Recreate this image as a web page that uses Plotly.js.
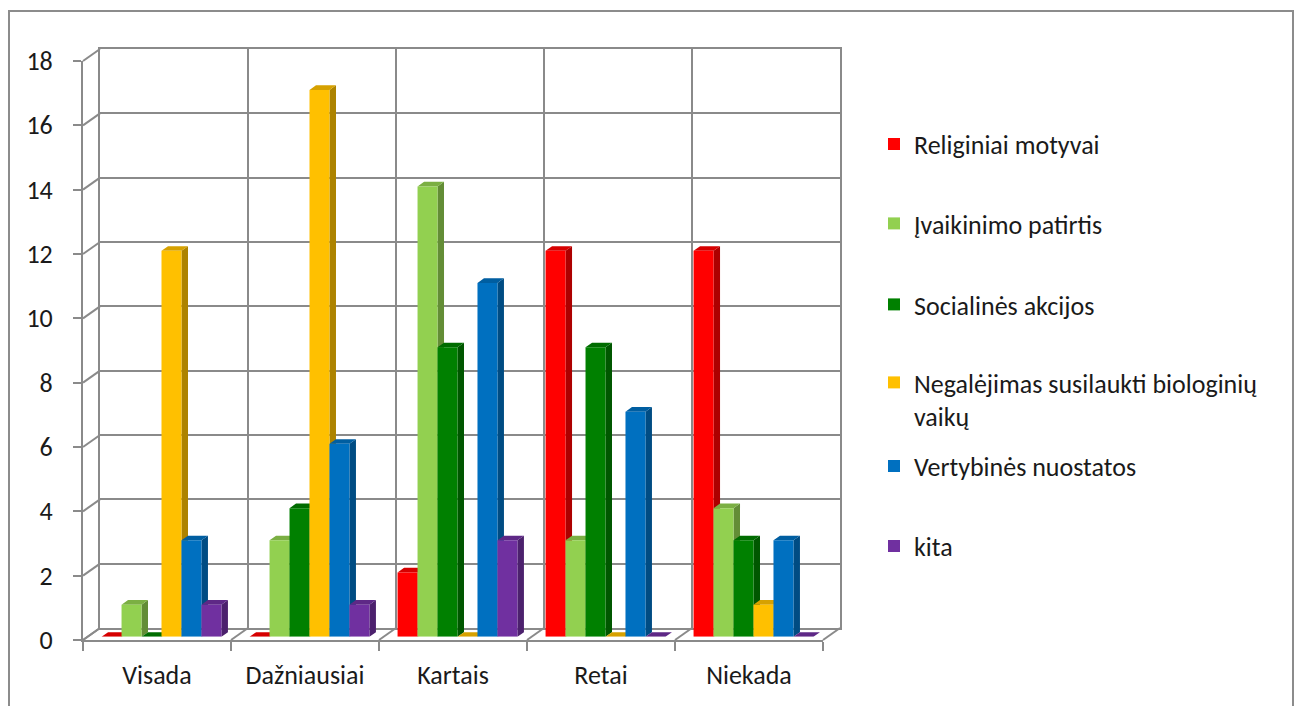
<!DOCTYPE html>
<html><head><meta charset="utf-8">
<script src="https://cdn.plot.ly/plotly-3.0.1.min.js"></script>
<style>html,body{margin:0;padding:0;background:#fff}#chart{width:1299px;height:706px}</style>
</head><body><div id="chart"></div>
<script>
// ---- data ----
const categories = ["Visada", "Dažniausiai", "Kartais", "Retai", "Niekada"];
const seriesNames = ["Religiniai motyvai", "Įvaikinimo patirtis", "Socialinės akcijos",
  "Negalėjimas susilaukti biologinių<br>vaikų", "Vertybinės nuostatos", "kita"];
const religiniai = [0, 0, 2, 12, 12];
const ivaikinimo = [1, 3, 14, 3, 4];
const socialines = [0, 4, 9, 9, 3];
const negalejimas = [12, 17, 0, 0, 1];
const vertybines = [3, 6, 11, 7, 3];
const kita = [1, 1, 3, 0, 0];
const yTickVals = [0, 2, 4, 6, 8, 10, 12, 14, 16, 18];

const seriesValues = [religiniai, ivaikinimo, socialines, negalejimas, vertybines, kita];
const colors = ["#FF0000", "#92D050", "#008000", "#FFC000", "#0070C0", "#7030A0"];

// ---- geometry (pixels) ----
const W = 1299, H = 706;
const FL = 83, FR = 823, FT = 61, FB = 640;      // front plane
const DX = 17, DY = 12;                          // depth offset to back wall
const BX = 4.5, BY = 3.2;                        // bar front face offset
const SDX = 6.5, SDY = 4.6;                      // bar depth
const YMAX = 18;
const px = x => x / W, py = y => 1 - y / H;
const nCat = categories.length, nSer = seriesValues.length;
const bargap = 0.19;
const bw = (1 - bargap) / nSer;
const unitX = (FR - FL) / nCat, unitY = (FB - FT) / YMAX;
const dxu = SDX / unitX, dyu = SDY / unitY;

function shade(hex, f) {
  const n = parseInt(hex.slice(1), 16);
  const r = Math.round(((n >> 16) & 255) * f), g = Math.round(((n >> 8) & 255) * f), b = Math.round((n & 255) * f);
  return `rgb(${r},${g},${b})`;
}

const traces = [];
// anchor trace so the back wall subplot is drawn
traces.push({type: "scatter", mode: "none", x: [0], y: [null], xaxis: "x", yaxis: "y", showlegend: false, hoverinfo: "skip"});

// side faces then top faces (subplot x2y2)
const sides = [], tops = [];
seriesValues.forEach((vals, k) => {
  const sx = [], sy = [], tx = [], ty = [];
  vals.forEach((v, i) => {
    const xl = i - (1 - bargap) / 2 + k * bw, xr = xl + bw;
    sx.push(xr, xr, xr + dxu, xr + dxu, null);
    sy.push(0, v, v + dyu, dyu, null);
    tx.push(xl, xr, xr + dxu, xl + dxu, null);
    ty.push(v, v, v + dyu, v + dyu, null);
  });
  sides.push({type: "scatter", mode: "none", x: sx, y: sy, fill: "toself", fillcolor: shade(colors[k], 0.68),
    xaxis: "x2", yaxis: "y2", showlegend: false, hoverinfo: "skip"});
  tops.push({type: "scatter", mode: "none", x: tx, y: ty, fill: "toself", fillcolor: shade(colors[k], 0.84),
    xaxis: "x2", yaxis: "y2", showlegend: false, hoverinfo: "skip"});
});
traces.push(...sides, ...tops);

// front faces (bars, subplot x3y3)
const legendCenters = [144, 223.5, 304.5, 399.5, 466, 546];
seriesValues.forEach((vals, k) => {
  traces.push({type: "bar", x: categories, y: vals, name: seriesNames[k],
    marker: {color: colors[k], line: {width: 0}}, xaxis: "x3", yaxis: "y3",
    legend: k === 0 ? "legend" : "legend" + (k + 1), hoverinfo: "x+y+name"});
});
// anchor trace for front axes
traces.push({type: "scatter", mode: "none", x: categories, y: categories.map(() => null),
  xaxis: "x4", yaxis: "y4", showlegend: false, hoverinfo: "skip"});

const gridC = "#8a8a8a";
const fontFam = "Carlito, Lato, 'Open Sans', sans-serif";
const FS = 26;
const layout = {
  width: W, height: H, margin: {l: 0, r: 0, t: 0, b: 0},
  paper_bgcolor: "#ffffff", plot_bgcolor: "rgba(0,0,0,0)",
  barmode: "group", bargap: bargap, bargroupgap: 0,
  font: {family: fontFam, size: FS, color: "#1a1a1a"},
  // back wall
  xaxis: {domain: [px(FL + DX), px(FR + DX)], range: [-0.5, nCat - 0.5], tickvals: categories.map((c, i) => i - 0.5).concat([nCat - 0.5]),
    showticklabels: false, ticks: "", showgrid: true, gridcolor: gridC, gridwidth: 2, zeroline: false,
    showline: true, mirror: true, linecolor: gridC, linewidth: 2, anchor: "y", fixedrange: true},
  yaxis: {domain: [py(FB - DY), py(FT - DY)], range: [0, YMAX], tickvals: yTickVals, showticklabels: false, ticks: "",
    showgrid: true, gridcolor: gridC, gridwidth: 2, zeroline: false,
    showline: true, mirror: true, linecolor: gridC, linewidth: 2, anchor: "x", fixedrange: true},
  // faces
  xaxis2: {domain: [px(FL + BX), px(FR + BX)], range: [-0.5, nCat - 0.5], visible: false, anchor: "y2", fixedrange: true},
  yaxis2: {domain: [py(FB - BY), py(FT - BY)], range: [0, YMAX], visible: false, anchor: "x2", fixedrange: true},
  // bars
  xaxis3: {domain: [px(FL + BX), px(FR + BX)], type: "category", categoryarray: categories, range: [-0.5, nCat - 0.5], visible: false, anchor: "y3", fixedrange: true},
  yaxis3: {domain: [py(FB - BY), py(FT - BY)], range: [0, YMAX], visible: false, anchor: "x3", fixedrange: true},
  // front axes with labels
  xaxis4: {domain: [px(FL), px(FR)], type: "category", categoryarray: categories, range: [-0.5, nCat - 0.5],
    tickson: "boundaries", ticks: "outside", ticklen: 9, tickwidth: 2, tickcolor: gridC,
    showline: true, linecolor: gridC, linewidth: 2, showgrid: false, zeroline: false,
    ticklabelstandoff: 11, tickfont: {size: FS}, anchor: "y4", fixedrange: true},
  yaxis4: {domain: [py(FB), py(FT)], range: [0, YMAX], tickvals: yTickVals, ticks: "outside", ticklen: 8, tickwidth: 2, tickcolor: gridC,
    showline: true, linecolor: gridC, linewidth: 2, showgrid: false, zeroline: false,
    ticklabelstandoff: 15, tickfont: {size: FS}, anchor: "x4", fixedrange: true},
  shapes: [],
  showlegend: true
};

// wall / floor diagonals
yTickVals.forEach(v => {
  const yf = FB - v * unitY, yb = yf - DY;
  layout.shapes.push({type: "line", xref: "paper", yref: "paper", x0: px(FL), y0: py(yf), x1: px(FL + DX), y1: py(yb),
    line: {color: gridC, width: 2}, layer: "below"});
});
for (let i = 0; i <= nCat; i++) {
  const xf = FL + i * unitX;
  layout.shapes.push({type: "line", xref: "paper", yref: "paper", x0: px(xf), y0: py(FB), x1: px(xf + DX), y1: py(FB - DY),
    line: {color: gridC, width: 2}, layer: "below"});
}
// outer border
layout.shapes.push({type: "rect", xref: "paper", yref: "paper", x0: px(9), y0: py(720), x1: px(1293), y1: py(11),
  line: {color: "#8c8c8c", width: 2}, layer: "below"});

// legends
seriesNames.forEach((n, k) => {
  const key = k === 0 ? "legend" : "legend" + (k + 1);
  layout[key] = {x: px(874), xanchor: "left", y: py(legendCenters[k]), yanchor: "middle",
    bgcolor: "rgba(0,0,0,0)", borderwidth: 0, valign: "top", font: {size: FS, color: "#1a1a1a"}};
});

Plotly.newPlot("chart", traces, layout, {displayModeBar: false, staticPlot: true});
</script>
</body></html>
